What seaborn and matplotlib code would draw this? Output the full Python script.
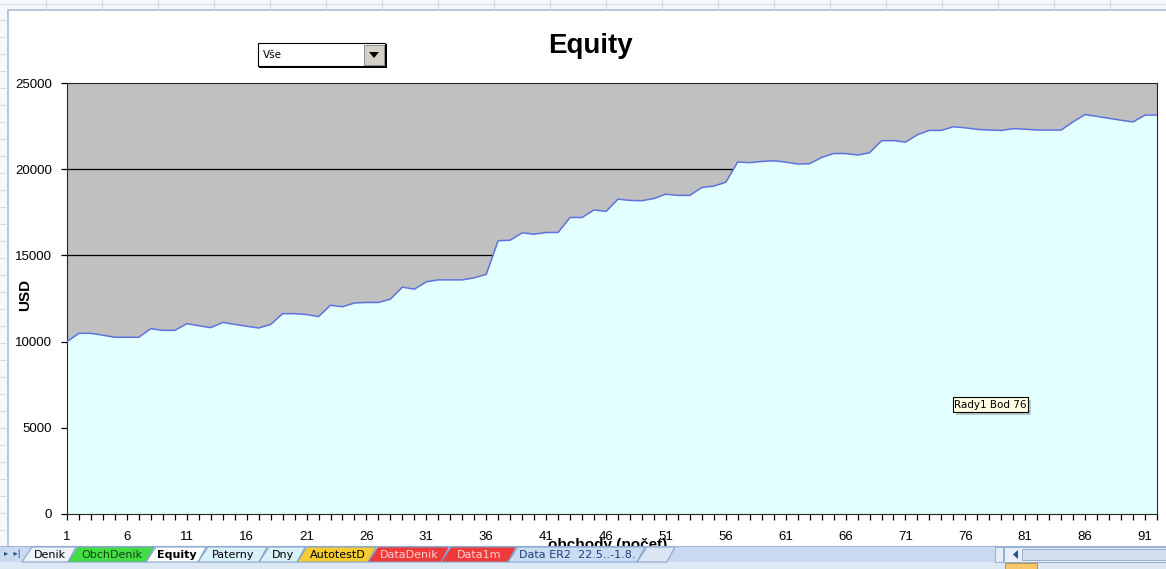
import numpy as np
import pandas as pd
import matplotlib
matplotlib.use('Agg')
import matplotlib.pyplot as plt
from matplotlib.patches import Rectangle, Polygon
import seaborn as sns

# equity after each trade (USD)
trades = list(range(1, 93))
equity = [10000, 10480, 10480, 10370, 10250, 10250, 10250, 10750, 10650, 10650,
          11040, 10920, 10810, 11110, 11000, 10890, 10790, 10990, 11620, 11620,
          11570, 11450, 12110, 12020, 12240, 12270, 12270, 12460, 13160, 13040,
          13470, 13580, 13580, 13580, 13700, 13900, 15850, 15880, 16310, 16230,
          16330, 16330, 17200, 17200, 17640, 17550, 18260, 18190, 18170, 18300,
          18550, 18480, 18480, 18940, 19020, 19240, 20420, 20380, 20450, 20490,
          20410, 20300, 20320, 20680, 20910, 20910, 20820, 20950, 21650, 21660,
          21570, 22000, 22250, 22250, 22460, 22400, 22310, 22270, 22250, 22350,
          22320, 22270, 22270, 22270, 22750, 23170, 23060, 22950, 22840, 22740,
          23140, 23140]
y_ticks = [0, 5000, 10000, 15000, 20000, 25000]
sheet_tabs = ['Denik', 'ObchDenik', 'Equity', 'Paterny', 'Dny', 'AutotestD',
              'DataDenik', 'Data1m', 'Data ER2  22.5..-1.8.']

df = pd.DataFrame({'obchod': trades, 'equity': equity})

W, H = 1166, 569
sns.set_style('white')
plt.rcParams['font.family'] = ['Liberation Sans', 'DejaVu Sans']
plt.rcParams['text.color'] = 'black'
plt.rcParams['axes.labelcolor'] = 'black'
plt.rcParams['xtick.color'] = 'black'
plt.rcParams['ytick.color'] = 'black'
fig = plt.figure(figsize=(W / 100, H / 100), dpi=100)

# spreadsheet behind the chart
bg = fig.add_axes([0, 0, 1, 1], zorder=-5)
bg.set_xlim(0, W); bg.set_ylim(H, 0); bg.axis('off')
bg.add_patch(Rectangle((0, 0), W, H, fc='#f6f8fb', ec='none'))
for gx in range(46, W, 56):
    bg.plot([gx, gx], [0, 10], color='#d5dbe4', lw=0.8)
bg.plot([0, W], [4, 4], color='#d5dbe4', lw=0.8)
for gy in range(20, 545, 17):
    bg.plot([0, 8], [gy, gy], color='#d5dbe4', lw=0.8)
bg.add_patch(Rectangle((8, 10), W, H, fc='white', ec='#a9bfd8', lw=1.2))

# chart
left, right, top, bottom = 67, 1157, 83, 514
ax = fig.add_axes([left / W, 1 - bottom / H, (right - left) / W, (bottom - top) / H])
ax.set_facecolor('#c0c0c0')
ax.fill_between(df['obchod'], df['equity'], 0, color='#e3ffff', zorder=2)
sns.lineplot(data=df, x='obchod', y='equity', ax=ax, color='#5e72dd', lw=1.1, zorder=3)
ax.set_xlim(1, 92)
ax.set_ylim(0, 25000)
ax.set_yticks(y_ticks)
ax.set_yticklabels([str(v) for v in y_ticks])
ax.set_xticks(trades)
ax.set_xticklabels([str(t) if (t - 1) % 5 == 0 else '' for t in trades])
for v in y_ticks[1:-1]:
    ax.axhline(v, color='black', lw=0.9, zorder=1)
ax.tick_params(axis='both', direction='out', length=4, width=0.9, color='black',
               labelsize=9.5, bottom=True, left=True)
ax.tick_params(axis='x', pad=8)
ax.tick_params(axis='y', pad=7)
ax.set_xlabel('')
ax.set_ylabel('')
fig.text(25 / W, 1 - 295 / H, 'USD', rotation=90, ha='center', va='center',
         fontsize=11, fontweight='bold')

fig.text(590 / W, 1 - 46 / H, 'Equity', ha='center', va='center',
         fontsize=20, fontweight='bold')
fig.text(608 / W, 1 - 545 / H, 'obchody (počet)', ha='center', va='center',
         fontsize=11, fontweight='bold')

# overlay: dropdown, tooltip, sheet tabs
fg = fig.add_axes([0, 0, 1, 1], zorder=10)
fg.set_xlim(0, W); fg.set_ylim(H, 0); fg.axis('off')

fg.add_patch(Rectangle((259, 44), 128, 24, fc='black', ec='none'))
fg.add_patch(Rectangle((258, 43), 127, 23, fc='white', ec='black', lw=0.8))
fg.add_patch(Rectangle((364, 45), 20, 20, fc='#d4d0c8', ec='#808080', lw=0.6))
fg.add_patch(Polygon([(369, 52), (379, 52), (374, 58)], fc='black', ec='none'))
fg.text(263, 55, 'Vše', fontsize=7.5, va='center', ha='left', family='DejaVu Sans')

fg.add_patch(Rectangle((956, 400), 75, 15, fc='#b8c8c8', ec='none'))
fg.add_patch(Rectangle((953, 397), 75, 15, fc='#ffffe1', ec='black', lw=0.8))
fg.text(990.5, 404.5, 'Rady1 Bod 76', fontsize=7.5, ha='center', va='center',
        family='DejaVu Sans')

fg.add_patch(Rectangle((0, 546), W, 16, fc='#c9daf0', ec='none'))
fg.add_patch(Rectangle((0, 562), W, 7, fc='#dde8f5', ec='none'))
fg.plot([0, W], [546, 546], color='#9fb6d6', lw=0.8)
fg.text(4, 554, '▸  ▸|', fontsize=6, color='#2a4d8c', va='center', family='DejaVu Sans')

tab_x = [27, 73, 151, 203, 264, 302, 373, 446, 513, 642]
tab_fc = ['#eef3fa', '#44dd44', 'white', '#d9f2fa', '#d9f2fa', '#f5cc33',
          '#ee3a3a', '#ee3a3a', '#c8dcf2']
tab_tc = ['black', '#114411', 'black', 'black', 'black', 'black',
          '#ffd0d0', '#ffd0d0', '#1f3f7f']
for i, name in enumerate(sheet_tabs):
    x0, x1 = tab_x[i], tab_x[i + 1]
    fg.add_patch(Polygon([(x0 - 5, 562), (x0 + 5, 547), (x1 + 3, 547), (x1 - 5, 562)],
                         closed=True, fc=tab_fc[i], ec='#7f9dc7', lw=0.7,
                         zorder=3 if name == 'Equity' else 2))
    fg.text((x0 + x1) / 2, 554.5, name, fontsize=8, ha='center', va='center',
            color=tab_tc[i], fontweight='bold' if name == 'Equity' else 'normal',
            family='DejaVu Sans', zorder=4)
fg.add_patch(Polygon([(637, 562), (647, 547), (675, 547), (667, 562)],
                     fc='#dbe6f4', ec='#7f9dc7', lw=0.7))

fg.add_patch(Rectangle((995, 547), 8, 15, fc='#e6edf6', ec='#8aa4c8', lw=0.6))
fg.add_patch(Rectangle((1004, 547), 162, 15, fc='#e9eff8', ec='#8aa4c8', lw=0.6))
fg.add_patch(Polygon([(1013, 554.5), (1018, 550), (1018, 559)], fc='#2a4d8c', ec='none'))
fg.add_patch(Rectangle((1022, 549), 144, 11, fc='#d2dff0', ec='#8aa4c8', lw=0.6))
fg.add_patch(Rectangle((1005, 563), 32, 6, fc='#f7c66b', ec='#b08a3c', lw=0.6))

fig.savefig('out.png', dpi=100)
